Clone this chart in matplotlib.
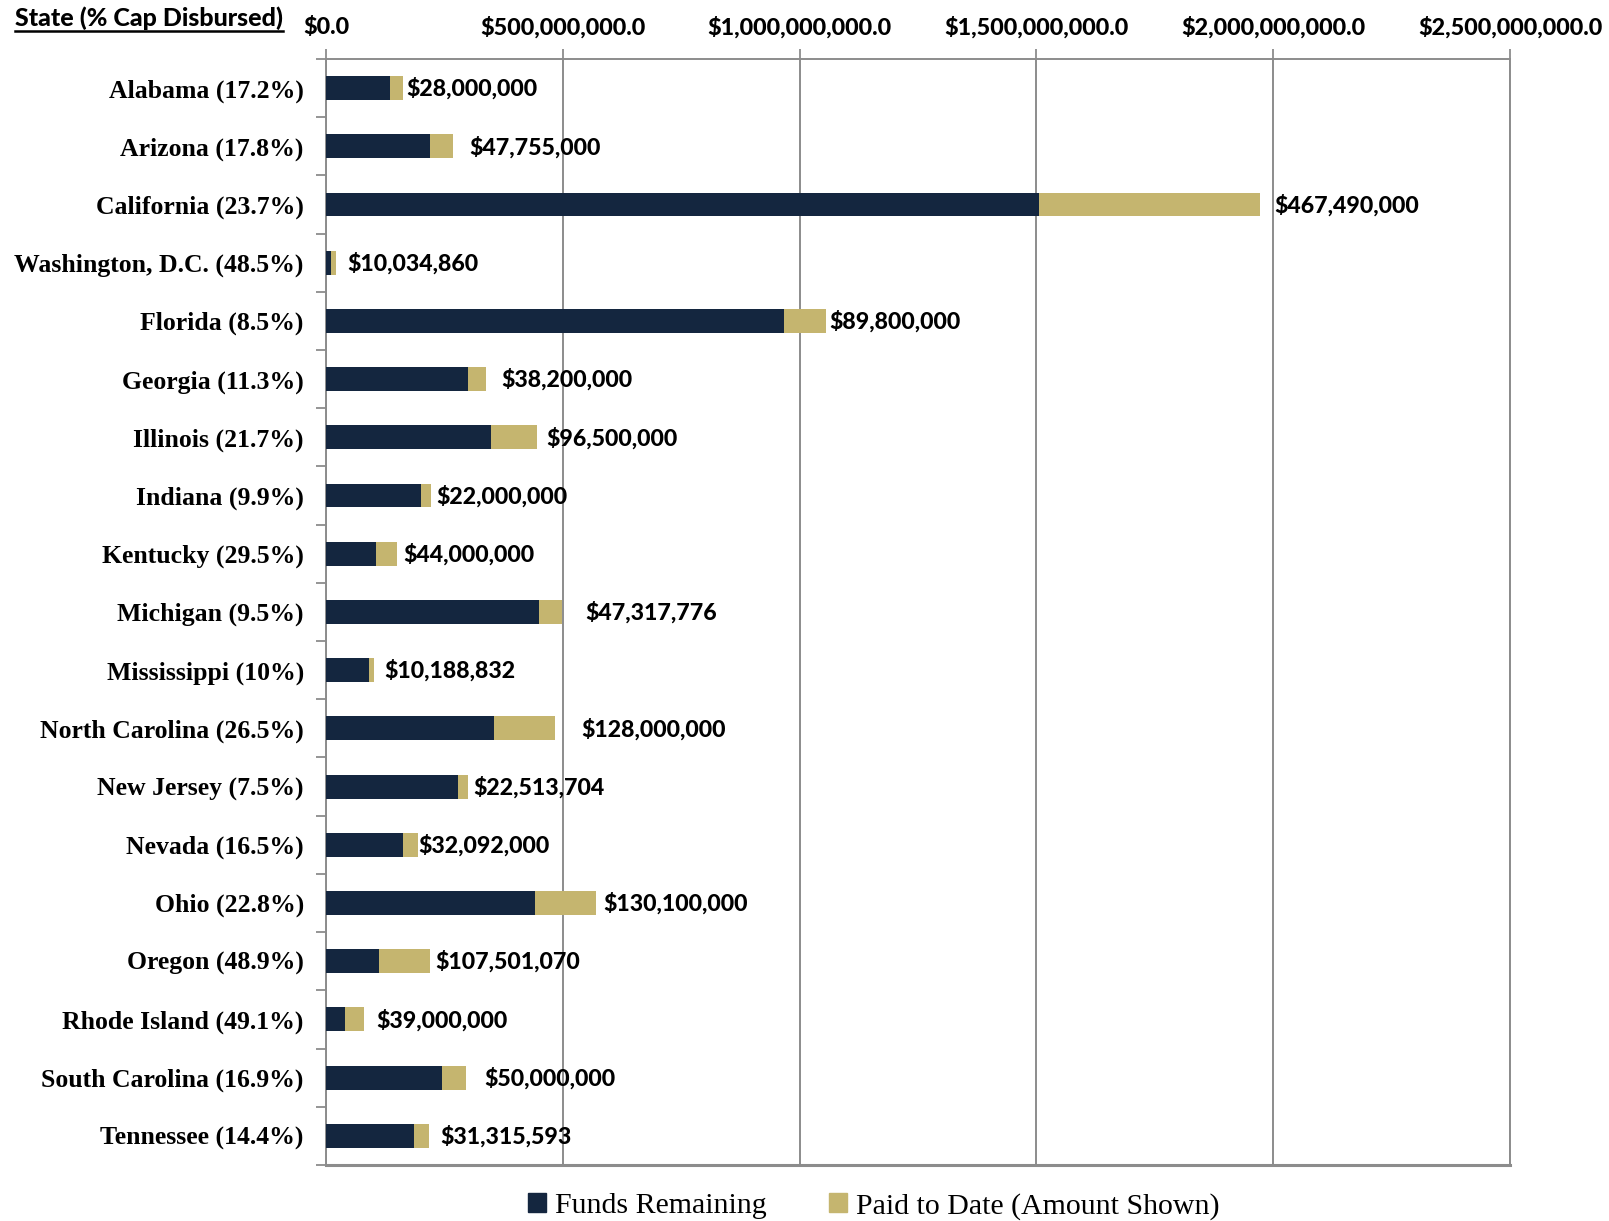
import matplotlib.pyplot as plt
from matplotlib.patches import Patch
from matplotlib.lines import Line2D
from matplotlib.ticker import FuncFormatter, MultipleLocator
import numpy as np

# data (top to bottom)
states = ["Alabama (17.2%)", "Arizona (17.8%)", "California (23.7%)",
          "Washington, D.C. (48.5%)", "Florida (8.5%)", "Georgia (11.3%)",
          "Illinois (21.7%)", "Indiana (9.9%)", "Kentucky (29.5%)",
          "Michigan (9.5%)", "Mississippi (10%)", "North Carolina (26.5%)",
          "New Jersey (7.5%)", "Nevada (16.5%)", "Ohio (22.8%)",
          "Oregon (48.9%)", "Rhode Island (49.1%)", "South Carolina (16.9%)",
          "Tennessee (14.4%)"]
funds_remaining = [134800000, 220500000, 1505000000, 10660000, 966700000,
                   299900000, 348200000, 200200000, 105200000, 450800000,
                   91700000, 355000000, 277700000, 162400000, 440500000,
                   112300000, 40400000, 245900000, 186200000]
paid_to_date = [28000000, 47755000, 467490000, 10034860, 89800000,
                38200000, 96500000, 22000000, 44000000, 47317776,
                10188832, 128000000, 22513704, 32092000, 130100000,
                107501070, 39000000, 50000000, 31315593]

# gap between bar end and its label (points)
label_pad = [2, 12, 10, 8, 2, 11, 7, 4, 5, 17, 7, 19, 4, 0, 5, 4, 9, 13, 8]

navy = "#14263F"
gold = "#C5B56F"
grid_c = "#8C8C8C"
num_font = "Lato"

fig = plt.figure(figsize=(16.09, 12.21), dpi=100)
ax = fig.add_axes([0.2026, 0.0459, 0.7359, 0.9058])

y = np.arange(len(states))
ax.barh(y, funds_remaining, height=0.41, color=navy, zorder=3)
ax.barh(y, paid_to_date, left=funds_remaining, height=0.41, color=gold, zorder=3)

for i in range(len(states)):
    total = funds_remaining[i] + paid_to_date[i]
    ax.annotate(f"${paid_to_date[i]:,}", (total, y[i]),
                xytext=(label_pad[i], -0.5), textcoords="offset points",
                va="center", ha="left", fontsize=16.7, fontweight=900,
                family=num_font, color="black", zorder=4)

ax.set_xlim(0, 2500000000)
ax.set_ylim(len(states) - 0.5, -0.5)

# x axis on top
ax.xaxis.set_major_locator(MultipleLocator(500000000))
ax.xaxis.set_major_formatter(FuncFormatter(lambda v, p: f"${v:,.1f}"))
ax.xaxis.tick_top()
ax.tick_params(axis="x", which="major", length=7, width=1.3, color=grid_c,
               pad=8, labelsize=16.8)
for lab in ax.get_xticklabels():
    lab.set_fontweight(900)
    lab.set_family(num_font)
ax.grid(axis="x", color=grid_c, linewidth=1.4, zorder=0)

# y axis: labels at categories, ticks at boundaries
ax.set_yticks(y)
ax.set_yticklabels(states, fontsize=18.5, fontweight="bold", family="Liberation Serif")
ax.set_yticks(np.arange(-0.5, len(states), 1.0), minor=True)
ax.tick_params(axis="y", which="major", length=0, pad=16)
ax.tick_params(axis="y", which="minor", length=7, width=1.3, color=grid_c)

for side in ["top", "left", "right"]:
    ax.spines[side].set_color(grid_c)
    ax.spines[side].set_linewidth(1.4)
ax.spines["bottom"].set_color(grid_c)
ax.spines["bottom"].set_linewidth(2.2)

# underlined header
hdr = fig.text(0.0093, 0.985, "State (% Cap Disbursed)", fontsize=18,
               fontweight=900, family=num_font, ha="left", va="center")
fig.canvas.draw()
bb = hdr.get_window_extent().transformed(fig.transFigure.inverted())
fig.add_artist(Line2D([bb.x0, bb.x1], [bb.y0 - 0.001, bb.y0 - 0.001],
                      color="black", linewidth=1.8, transform=fig.transFigure))

handles = [Patch(color=navy, label="Funds Remaining"),
           Patch(color=gold, label="Paid to Date (Amount Shown)")]
fig.legend(handles=handles, loc="center", bbox_to_anchor=(0.543, 0.012),
           ncol=2, frameon=False, handlelength=0.6, handleheight=0.6,
           handletextpad=0.3, columnspacing=2.1,
           prop={"family": "Liberation Serif", "size": 21.5})

plt.savefig("out.png", dpi=100)
plt.close()
